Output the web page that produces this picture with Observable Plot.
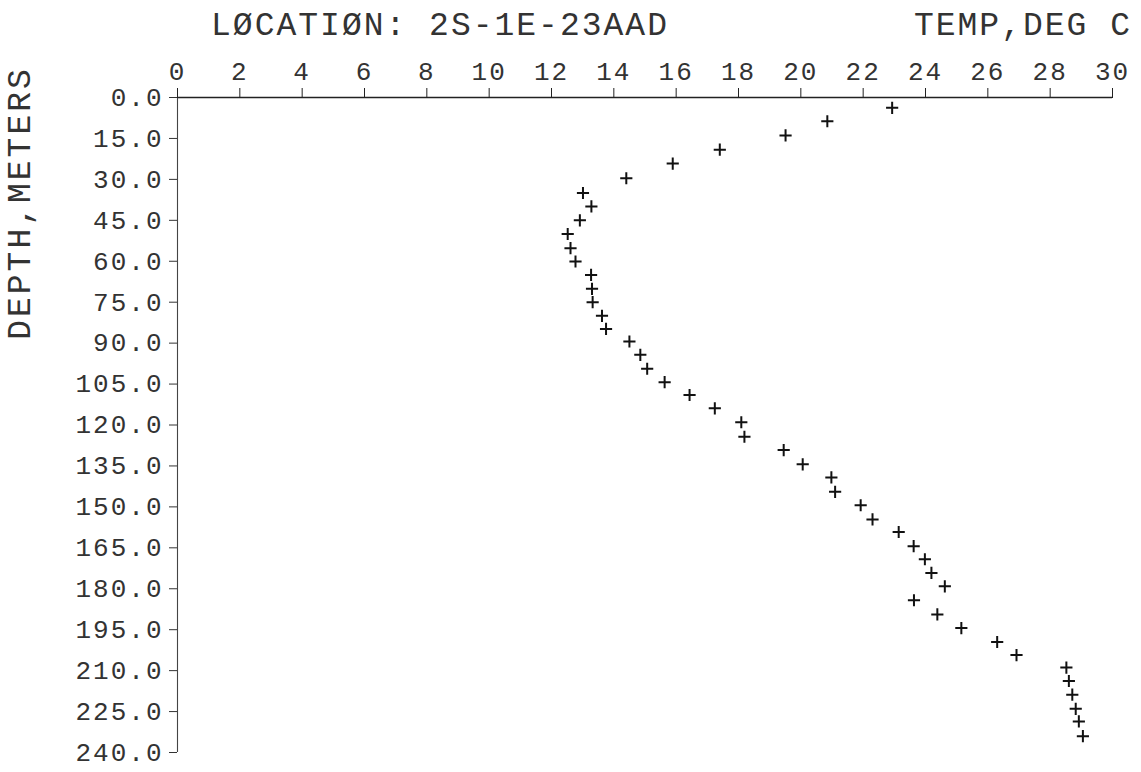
<!DOCTYPE html>
<html>
<head>
<meta charset="utf-8">
<script src="https://cdn.jsdelivr.net/npm/d3@7"></script>
<script src="https://cdn.jsdelivr.net/npm/@observablehq/plot@0.6"></script>
<style>
  html, body { margin: 0; padding: 0; background: #fff; }
  #chart svg text { letter-spacing: 2px; }
</style>
</head>
<body>
<div id="chart"></div>
<script>
// Temperature profile, location 2S-1E-23AAD
const depth = [3.8, 8.7, 13.9, 19.1, 24.2, 29.6, 35.0, 39.9, 45.0, 50.0, 55.2, 60.1, 65.0, 70.1, 75.0, 80.0, 84.8, 89.4, 94.3, 99.4, 104.3, 109.0, 113.9, 119.0, 124.3, 129.2, 134.4, 139.2, 144.5, 149.4, 154.6, 159.2, 164.4, 169.2, 174.2, 179.1, 184.2, 189.4, 194.4, 199.5, 204.3, 208.9, 213.8, 218.8, 224.0, 228.6, 234.0];
const temp = [22.93, 20.85, 19.51, 17.40, 15.89, 14.40, 13.01, 13.28, 12.91, 12.52, 12.61, 12.77, 13.27, 13.30, 13.32, 13.62, 13.75, 14.50, 14.85, 15.07, 15.63, 16.43, 17.24, 18.09, 18.19, 19.45, 20.06, 20.98, 21.10, 21.92, 22.30, 23.14, 23.62, 23.98, 24.19, 24.62, 23.63, 24.38, 25.15, 26.30, 26.92, 28.52, 28.60, 28.71, 28.82, 28.92, 29.05];
const xTicks = [0, 2, 4, 6, 8, 10, 12, 14, 16, 18, 20, 22, 24, 26, 28, 30];
const yTicks = [0, 15, 30, 45, 60, 75, 90, 105, 120, 135, 150, 165, 180, 195, 210, 225, 240];
const title = "LØCATIØN: 2S-1E-23AAD";
const xLabel = "TEMP,DEG C";
const yLabel = "DEPTH,METERS";

const data = depth.map((d, i) => ({depth: d, temp: temp[i]}));
const FONT = "'Liberation Mono', 'DejaVu Sans Mono', monospace";

const chart = Plot.plot({
  width: 1141,
  height: 772,
  marginTop: 97,
  marginBottom: 20,
  marginLeft: 177,
  marginRight: 29,
  x: {domain: [0, 30]},
  y: {domain: [0, 240], reverse: true},
  style: {fontFamily: FONT, background: "#fff", color: "#333"},
  marks: [
    Plot.ruleY([0], {stroke: "#222", strokeWidth: 1.3}),
    Plot.ruleX([0], {stroke: "#444", strokeWidth: 1.1}),
    Plot.axisX(xTicks, {anchor: "top", tickSize: 10, tickPadding: 8, fontSize: 26, label: null, stroke: "#222"}),
    Plot.axisY(yTicks, {anchor: "left", tickSize: 8, tickPadding: 6, fontSize: 26, label: null, tickFormat: d => d.toFixed(1)}),
    Plot.dot(data, {x: "temp", y: "depth", symbol: "plus", r: 4, stroke: "#111", strokeWidth: 2})
  ]
});

document.getElementById("chart").appendChild(chart);

const svg = d3.select(chart);
svg.append("text")
  .attr("x", 440).attr("y", 35)
  .attr("text-anchor", "middle")
  .attr("font-family", FONT).attr("font-size", 33)
  .attr("fill", "#333")
  .style("letter-spacing", "2px")
  .text(title);
svg.append("text")
  .attr("x", 1132).attr("y", 35)
  .attr("text-anchor", "end")
  .attr("font-family", FONT).attr("font-size", 33)
  .attr("fill", "#333")
  .style("letter-spacing", "2px")
  .text(xLabel);
svg.append("text")
  .attr("transform", "translate(30,203) rotate(-90)")
  .attr("text-anchor", "middle")
  .attr("font-family", FONT).attr("font-size", 33)
  .attr("fill", "#333")
  .style("letter-spacing", "3px")
  .text(yLabel);
</script>
</body>
</html>
